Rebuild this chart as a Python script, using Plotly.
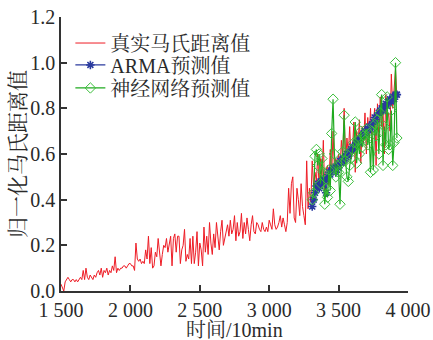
import plotly.graph_objects as go

# ---- data ----
real_start = 1500
real_step = 10
real_values = [
    0.03, 0.01, 0.00, 0.04, 0.05, 0.06, 0.05, 0.04, 0.05, 0.05,
    0.04, 0.05, 0.04, 0.05, 0.06, 0.05, 0.09, 0.05, 0.10, 0.06,
    0.05, 0.07, 0.06, 0.05, 0.07, 0.06, 0.08, 0.09, 0.07, 0.10,
    0.06, 0.09, 0.08, 0.10, 0.07, 0.09, 0.08, 0.11, 0.09, 0.15,
    0.08, 0.10, 0.09, 0.10, 0.10, 0.11, 0.11, 0.10, 0.11, 0.12,
    0.12, 0.11, 0.11, 0.09, 0.21, 0.14, 0.13, 0.14, 0.12, 0.13,
    0.12, 0.18, 0.14, 0.24, 0.12, 0.19, 0.10, 0.11, 0.17, 0.15,
    0.23, 0.15, 0.11, 0.16, 0.20, 0.19, 0.23, 0.17, 0.21, 0.24,
    0.11, 0.23, 0.25, 0.17, 0.24, 0.24, 0.12, 0.18, 0.20, 0.27,
    0.13, 0.16, 0.14, 0.23, 0.12, 0.24, 0.12, 0.17, 0.26, 0.11,
    0.21, 0.18, 0.11, 0.28, 0.17, 0.24, 0.16, 0.30, 0.21, 0.16,
    0.25, 0.19, 0.30, 0.22, 0.18, 0.26, 0.31, 0.20, 0.23, 0.27,
    0.29, 0.24, 0.31, 0.25, 0.27, 0.33, 0.22, 0.30, 0.24, 0.26,
    0.34, 0.23, 0.30, 0.25, 0.32, 0.27, 0.22, 0.29, 0.33, 0.26,
    0.25, 0.30, 0.29, 0.27, 0.26, 0.30, 0.27, 0.26, 0.28, 0.26,
    0.31, 0.29, 0.27, 0.36, 0.29, 0.27, 0.28, 0.30, 0.33, 0.28,
    0.32, 0.29, 0.26, 0.30, 0.45, 0.34, 0.47, 0.50, 0.32, 0.30,
    0.45, 0.40, 0.33, 0.47, 0.37, 0.33, 0.29, 0.57, 0.36, 0.45,
    0.39, 0.57, 0.45, 0.52, 0.48, 0.60, 0.44, 0.58, 0.50, 0.66,
    0.43, 0.53, 0.55, 0.46, 0.62, 0.50, 0.70, 0.53, 0.58, 0.55,
    0.60, 0.53, 0.66, 0.57, 0.80, 0.55, 0.67, 0.60, 0.72, 0.58,
    0.62, 0.74, 0.52, 0.70, 0.64, 0.75, 0.56, 0.72, 0.65, 0.78,
    0.60, 0.76, 0.66, 0.80, 0.63, 0.74, 0.80, 0.55, 0.82, 0.66,
    0.85, 0.72, 0.80, 0.60, 0.86, 0.75, 0.78, 0.70, 0.95, 0.80,
    0.88, 0.97, 0.85,
]

pred_start = 3310
pred_step = 10
arma_values = [
    0.37, 0.40, 0.43, 0.46, 0.47, 0.45, 0.48, 0.47, 0.49, 0.48,
    0.43, 0.50, 0.52, 0.51, 0.53, 0.54, 0.53, 0.52, 0.55, 0.54,
    0.57, 0.56, 0.58, 0.57, 0.59, 0.60, 0.59, 0.61, 0.62, 0.63,
    0.62, 0.64, 0.65, 0.66, 0.65, 0.67, 0.68, 0.69, 0.70, 0.69,
    0.71, 0.72, 0.71, 0.73, 0.74, 0.76, 0.75, 0.77, 0.78, 0.79,
    0.80, 0.79, 0.81, 0.82, 0.81, 0.83, 0.84, 0.83, 0.85, 0.84,
    0.86, 0.86,
]
nn_values = [
    0.40, 0.43, 0.59, 0.62, 0.55, 0.60, 0.47, 0.58, 0.52, 0.38,
    0.45, 0.41, 0.53, 0.44, 0.69, 0.84, 0.60, 0.50, 0.55, 0.52,
    0.38, 0.56, 0.61, 0.77, 0.57, 0.50, 0.48, 0.55, 0.58, 0.62,
    0.65, 0.74, 0.56, 0.66, 0.60, 0.70, 0.63, 0.68, 0.66, 0.71,
    0.64, 0.69, 0.52, 0.70, 0.53, 0.73, 0.68, 0.75, 0.60, 0.78,
    0.86, 0.55, 0.72, 0.64, 0.85, 0.62, 0.64, 0.79, 0.55, 0.65,
    1.00, 0.67,
]

x_ticks = [1500, 2000, 2500, 3000, 3500, 4000]
x_tick_labels = ["1 500", "2 000", "2 500", "3 000", "3 500", "4 000"]
y_ticks = [0.0, 0.2, 0.4, 0.6, 0.8, 1.0, 1.2]
y_tick_labels = ["0.0", "0.2", "0.4", "0.6", "0.8", "1.0", "1.2"]

series_names = ["真实马氏距离值", "ARMA预测值", "神经网络预测值"]
x_title = "时间/10min"
y_title = "归一化马氏距离值"

real_t = [real_start + i * real_step for i in range(len(real_values))]
pred_t = [pred_start + i * pred_step for i in range(len(arma_values))]

FONT = "Liberation Serif, Noto Serif CJK SC, Noto Sans CJK SC, serif"
TXT = "#2a2a2a"

fig = go.Figure()
fig.add_trace(go.Scatter(
    x=real_t, y=real_values, mode="lines", name=series_names[0],
    line=dict(color="#ee1c25", width=1), legend="legend",
))
fig.add_trace(go.Scatter(
    x=pred_t, y=arma_values, mode="lines+markers", name=series_names[1],
    line=dict(color="#2a3a9e", width=1.2), legend="legend2",
    marker=dict(symbol="asterisk-open", size=7, color="#2a3a9e",
                line=dict(color="#2a3a9e", width=1.6)),
))
fig.add_trace(go.Scatter(
    x=pred_t, y=nn_values, mode="lines+markers", name=series_names[2],
    line=dict(color="#1faa1f", width=1.2), legend="legend3",
    marker=dict(symbol="diamond-open", size=8, color="#3cbf3c",
                line=dict(color="#3cbf3c", width=1)),
))

axis_common = dict(
    showline=True, linecolor="#333333", linewidth=1.5,
    ticks="inside", ticklen=6, tickwidth=1.5, tickcolor="#333333",
    showgrid=False, zeroline=False, mirror=False, automargin=False,
    tickfont=dict(family=FONT, size=20, color=TXT),
)

legend_common = dict(
    x=0.027, xanchor="left", yanchor="middle",
    bgcolor="rgba(0,0,0,0)", borderwidth=0,
    font=dict(family=FONT, size=20, color=TXT),
)

fig.update_layout(
    width=433, height=340,
    margin=dict(l=61, r=25, t=17, b=49),
    paper_bgcolor="white", plot_bgcolor="white",
    font=dict(family=FONT, size=20, color=TXT),
    showlegend=True,
    legend=dict(y=0.905, **legend_common),
    legend2=dict(y=0.825, **legend_common),
    legend3=dict(y=0.741, **legend_common),
    xaxis=dict(range=[1500, 4000], tickvals=x_ticks, ticktext=x_tick_labels,
               **axis_common),
    yaxis=dict(range=[0, 1.2], tickvals=y_ticks, ticktext=y_tick_labels,
               **axis_common),
    annotations=[
        dict(text=x_title, xref="paper", yref="paper", x=0.5, y=0,
             xanchor="center", yanchor="middle", yshift=-39,
             showarrow=False, font=dict(family=FONT, size=20, color=TXT)),
        dict(text=y_title, xref="paper", yref="paper", x=0, y=0.5,
             xanchor="center", yanchor="middle", xshift=-43, textangle=-90,
             showarrow=False, font=dict(family=FONT, size=21, color=TXT)),
    ],
)

fig.write_html("out.html",
               config={"displayModeBar": False},
               post_script="document.body.style.margin='0';"
                           "document.body.style.overflow='hidden';")
